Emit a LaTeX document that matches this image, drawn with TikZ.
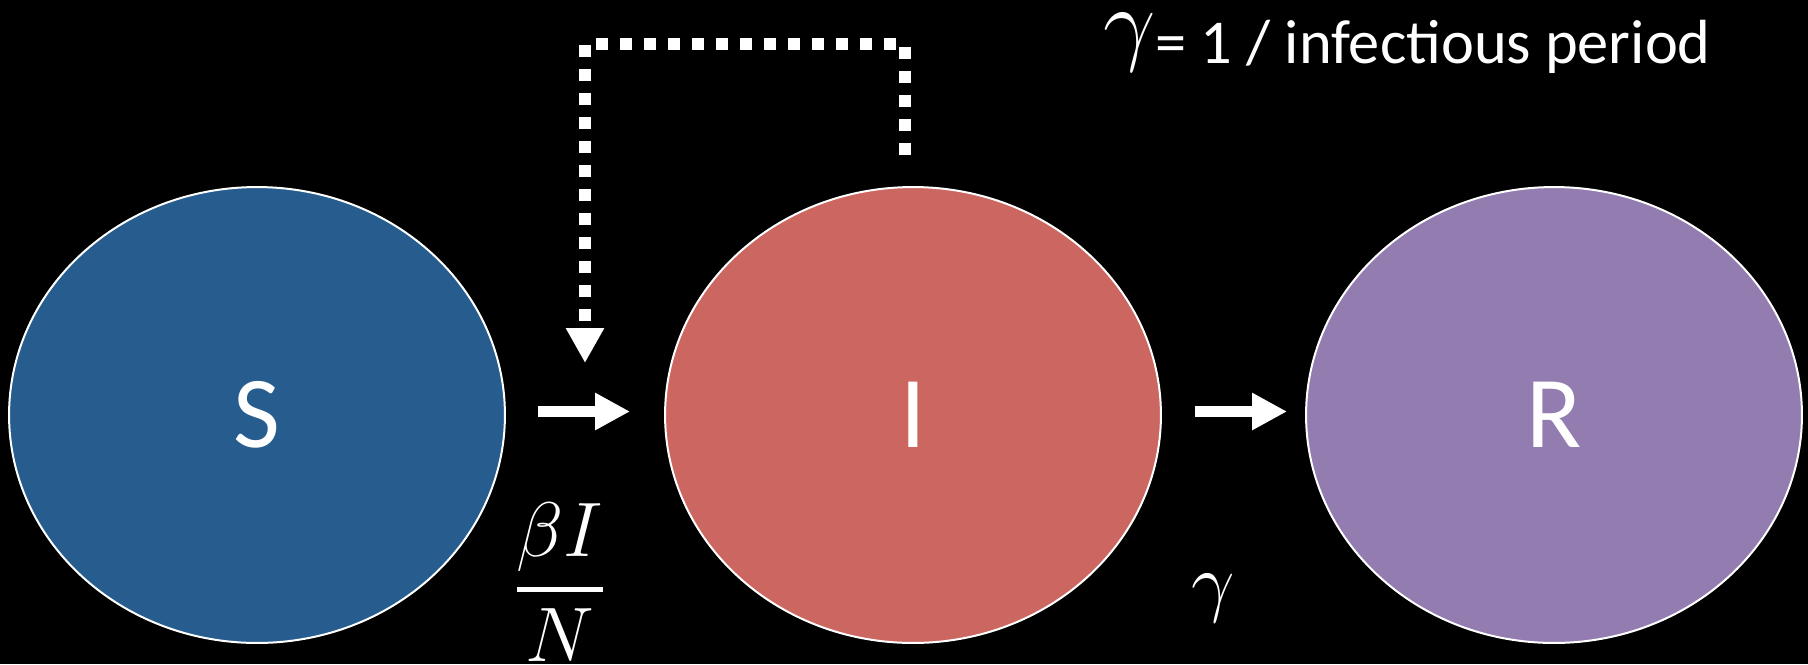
\RequirePackage{fix-cm}
\documentclass[tikz,border=0pt]{standalone}
\usepackage{fontspec}
\usepackage{amsmath}
\setmainfont{Carlito}
\usetikzlibrary{shapes.geometric,arrows.meta}
\definecolor{sblue}{RGB}{38,93,142}
\definecolor{ired}{RGB}{204,102,96}
\definecolor{rpurple}{RGB}{147,124,176}

\begin{document}
\begin{tikzpicture}[x=0.02cm, y=-0.02cm,
  comp/.style={ellipse, draw=white, line width=0.04cm, minimum width=9.92cm,
    minimum height=9.12cm, inner sep=0pt, text=white, font=\fontsize{58}{60}\selectfont},
  flow/.style={white, line width=0.22cm, -{Triangle[width=0.7cm,length=0.7cm]}},
  feedback/.style={white, line width=0.24cm, dash pattern=on 0.24cm off 0.24cm,
    -{Triangle[width=0.72cm,length=0.7cm]}},
  rate/.style={white, inner sep=0pt, font=\fontsize{44}{46}\selectfont}]
% background
\fill[black] (0,0) rectangle (1808,664);
% compartments
\node[comp, fill=sblue] (S) at (257,415) {S};
\node[comp, fill=ired] (I) at (913,415) {I};
\node[comp, fill=rpurple] (R) at (1554,415) {R};
% flows between compartments
\draw[flow, shorten <=0.64cm, shorten >=0.68cm] ([yshift=0.07cm]S.east) -- ([yshift=0.07cm]I.west);
\draw[flow, shorten <=0.66cm, shorten >=0.36cm] ([yshift=0.07cm]I.east) -- ([yshift=0.07cm]R.west);
% infection feedback from I
\coordinate (fbstart) at (905,155);
\coordinate (fbend) at (585,363);
\draw[feedback] (fbstart) -- (905,44) -- (585,44) -- (fbend);
% rates
\node[rate] (beta) at (560,582) {$\genfrac{}{}{2.8pt}{0}{\beta I}{N}$};
\node[rate] (gamma) at (1213,598) {$\gamma$};
\node[white, inner sep=0pt, anchor=base west, font=\fontsize{35.5}{37}\selectfont] (period) at (1103,63)
  {\raisebox{0.2cm}{\fontsize{53}{55}\selectfont$\gamma$}= 1 / infectious period};
\end{tikzpicture}
\end{document}
